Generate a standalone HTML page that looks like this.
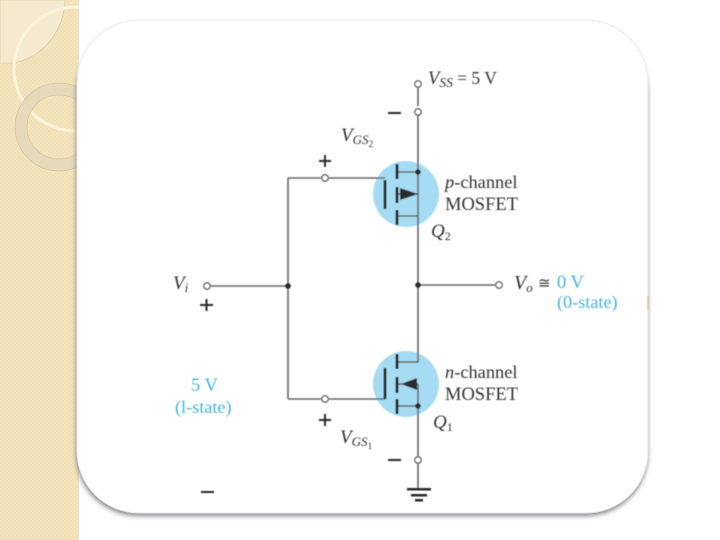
<!DOCTYPE html>
<html><head><meta charset="utf-8"><style>
html,body{margin:0;padding:0;background:#fff}
svg{display:block}
text{font-family:"Liberation Serif",serif;fill:#333}
.b{fill:#45b4dc}
.i{font-style:italic}
</style></head><body>
<svg width="720" height="540" viewBox="0 0 720 540" xmlns="http://www.w3.org/2000/svg">
<defs>
<pattern id="p" width="4" height="4" patternUnits="userSpaceOnUse"><rect width="4" height="4" fill="#f1e0b4"/><rect width="2" height="2" fill="#f4e4bd"/><rect x="2" y="2" width="2" height="2" fill="#f4e4bd"/></pattern>
<filter id="s" x="-10%" y="-10%" width="120%" height="120%"><feGaussianBlur stdDeviation="2.5"/></filter>
<filter id="bl"><feGaussianBlur stdDeviation="0.5"/></filter>
<clipPath id="c"><rect width="79" height="540"/></clipPath>
</defs>
<rect width="79" height="540" fill="url(#p)"/>
<g clip-path="url(#c)">
<path d="M0,0H65A62,66 0 0 1 13,63H0Z" fill="#f5ead0" stroke="#d3c49b" stroke-width=".6"/>
<circle cx="76" cy="69" r="62" fill="none" stroke="#fbf5dc" stroke-width="3"/>
<circle cx="59" cy="127" r="38" fill="none" stroke="#e6dabb" stroke-width="12"/>
<circle cx="59" cy="127" r="44" fill="none" stroke="#cfc09a" stroke-width=".6"/>
<circle cx="59" cy="127" r="32" fill="none" stroke="#cfc09a" stroke-width=".6"/>
</g>
<rect x="76" y="30" width="572" height="486" rx="62" fill="#8a8a8a" filter="url(#s)"/>
<rect x="77" y="20" width="571" height="493" rx="62" fill="#fff" stroke="#e8e9ef" stroke-width="1"/>
<path d="M648,296v14" stroke="#e9b96a" stroke-width="1.5" opacity=".7"/>
<g filter="url(#bl)">
<circle cx="406" cy="194" r="33" fill="#a5dcf4"/>
<circle cx="406" cy="384" r="33" fill="#a5dcf4"/>
<g fill="none" stroke="#666" stroke-width="1.6">
<path d="M418,88V106M418,116V216H397"/>
<path d="M418,172H397M418,194H397"/>
<path d="M418,216V362H397M418,384V456M418,464V488"/>
<path d="M397,384H418M397,406H418"/>
<path d="M211,286H288M288,178V399M329,178H385M288,178H321M288,399H321M329,399H385"/>
<path d="M418,285H495"/>
</g>
<g fill="#fff" stroke="#555" stroke-width="1.3">
<circle cx="418" cy="84" r="3.200"/><circle cx="418" cy="112" r="3.200"/><circle cx="418" cy="460" r="3.200"/>
<circle cx="499" cy="285" r="3.200"/><circle cx="207" cy="286" r="3.200"/><circle cx="325" cy="178" r="3.200"/><circle cx="325" cy="399" r="3.200"/>
</g>
<g fill="#2a2a2a">
<circle cx="418" cy="172" r="2.800"/><circle cx="418" cy="406" r="2.800"/><circle cx="418" cy="285" r="2.800"/><circle cx="288" cy="286" r="2.800"/>
<rect x="383.500" y="180" width="3" height="29"/><rect x="395.500" y="164" width="3" height="15"/><rect x="395.500" y="187" width="3" height="16"/><rect x="395.500" y="210" width="3" height="15"/>
<rect x="383.500" y="368" width="3" height="31"/><rect x="395.500" y="354" width="3" height="15"/><rect x="395.500" y="377" width="3" height="16"/><rect x="395.500" y="399" width="3" height="15"/>
<path d="M400,188L418,194L400,200Z"/><path d="M401,384L417,378L417,390Z"/>
<rect x="407" y="488" width="24" height="2.500"/><rect x="411" y="494" width="16" height="2.500"/><rect x="415" y="499" width="8" height="2.500"/>
<rect x="388" y="112" width="13" height="2"/><rect x="388" y="459" width="13" height="2"/><rect x="201" y="491" width="13" height="2"/>
<path d="M319,160h12v2h-12zM324,155h2v12h-2z"/><path d="M319,419h12v2h-12zM324,414h2v12h-2z"/><path d="M200,304h13v2h-13zM205.500,299h2v12h-2z"/>
</g>
<text x="428" y="84" font-size="18.500"><tspan class="i">V</tspan><tspan class="i" font-size="13.500" dy="3">SS</tspan><tspan dy="-3" font-size="17.500"> = 5 V</tspan></text>
<text x="341" y="141" font-size="19" class="i">V<tspan font-size="13" dy="3">GS</tspan><tspan font-size="9.500" dy="3" font-style="normal">2</tspan></text>
<text x="340" y="443" font-size="19" class="i">V<tspan font-size="13" dy="3">GS</tspan><tspan font-size="9.500" dy="3" font-style="normal">1</tspan></text>
<text x="445" y="188" font-size="18.400"><tspan class="i">p</tspan>-channel</text>
<text x="445" y="210" font-size="18.500">MOSFET</text>
<text x="445" y="378" font-size="18.400"><tspan class="i">n</tspan>-channel</text>
<text x="445" y="400" font-size="18.500">MOSFET</text>
<text x="431" y="237" font-size="19" class="i">Q<tspan font-size="12" dy="3" font-style="normal">2</tspan></text>
<text x="433" y="428" font-size="19" class="i">Q<tspan font-size="12" dy="3" font-style="normal">1</tspan></text>
<text x="173" y="289" font-size="19" class="i">V<tspan font-size="13" dy="3">i</tspan></text>
<text x="514" y="289" font-size="20" class="i">V<tspan font-size="13" dy="3">o</tspan></text>
<text x="538" y="288" font-size="15">≅</text>
<text x="557" y="288" font-size="18.500" class="b">0 V</text>
<text x="557" y="308" font-size="18.200" class="b">(0-state)</text>
<text x="191" y="391" font-size="18.500" class="b">5 V</text>
<text x="175" y="413" font-size="18.200" class="b">(l-state)</text>
</g>
</svg>
</body></html>
